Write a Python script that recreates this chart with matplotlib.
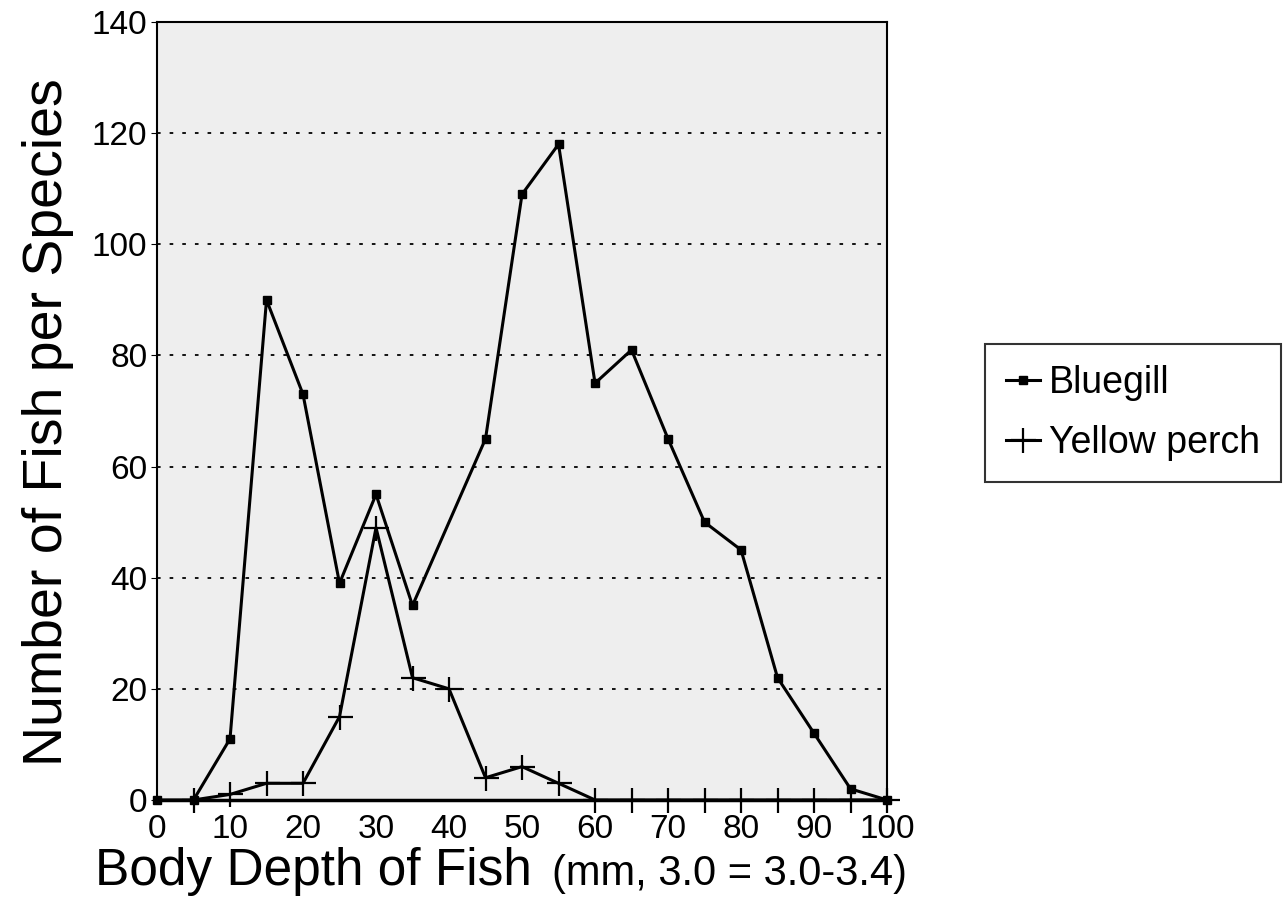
import matplotlib.pyplot as plt
import numpy as np

plt.rcParams['font.family'] = ['Liberation Sans', 'DejaVu Sans']

# body depth classes (x) and counts per species
bluegill_x = [0, 5, 10, 15, 20, 25, 30, 35, 45, 50, 55, 60, 65, 70, 75, 80, 85, 90, 95, 100]
bluegill_y = [0, 0, 11, 90, 73, 39, 55, 35, 65, 109, 118, 75, 81, 65, 50, 45, 22, 12, 2, 0]

perch_x = [5, 10, 15, 20, 25, 30, 35, 40, 45, 50, 55, 60, 65, 70, 75, 80, 85, 90, 95, 100]
perch_y = [0, 1, 3, 3, 15, 49, 22, 20, 4, 6, 3, 0, 0, 0, 0, 0, 0, 0, 0, 0]

x_ticks = list(range(0, 101, 10))
y_ticks = list(range(0, 141, 20))


def plot_fish():
    fig = plt.figure(figsize=(12.88, 9.07), dpi=100)
    ax = fig.add_axes([0.1219, 0.118, 0.5668, 0.8577])
    ax.set_facecolor('#eeeeee')

    ax.plot(bluegill_x, bluegill_y, color='black', lw=2.2, marker='s', markersize=5.5,
            label='Bluegill', clip_on=False, zorder=3)
    ax.plot(perch_x, perch_y, color='black', lw=2.2, marker='+', markersize=18,
            markeredgewidth=1.6, label='Yellow perch', clip_on=False, zorder=3)

    ax.set_xlim(0, 100)
    ax.set_ylim(0, 140)
    ax.set_xticks(x_ticks)
    ax.set_yticks(y_ticks)
    ax.tick_params(axis='x', length=0, labelsize=24, pad=10)
    ax.tick_params(axis='y', length=4, labelsize=24, pad=3)

    for v in y_ticks[1:-1]:
        ax.axhline(v, color='black', lw=1.3, linestyle=(0, (2, 5)), zorder=1)

    for s in ax.spines.values():
        s.set_linewidth(1.5)
        s.set_color('black')
    ax.spines['bottom'].set_linewidth(2.5)

    fig.text(0.037, 0.535, 'Number of Fish per Species', rotation=90,
             ha='center', va='center', fontsize=40)
    fig.text(0.0738, 0.0243, 'Body Depth of Fish', ha='left', va='baseline', fontsize=37)
    fig.text(0.704, 0.0243, '(mm, 3.0 = 3.0-3.4)', ha='right', va='baseline', fontsize=30)

    leg = fig.legend(loc='center left', bbox_to_anchor=(0.765, 0.5446), fontsize=27,
                     frameon=True, fancybox=False, edgecolor='black',
                     handlelength=0.9, handletextpad=0.25, borderpad=0.55,
                     labelspacing=0.65, borderaxespad=0)
    leg.get_frame().set_linewidth(1.5)

    fig.savefig('out.png', dpi=100)


if __name__ == "__main__":
    plot_fish()
